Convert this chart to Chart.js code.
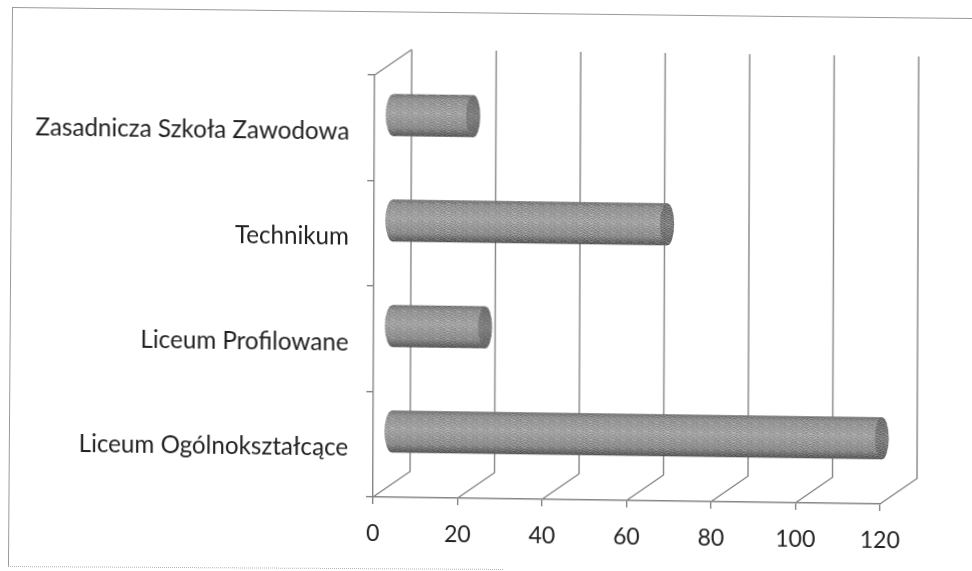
<!DOCTYPE html>
<html>
<head>
<meta charset="utf-8">
<title>Szkoły</title>
<script src="https://cdn.jsdelivr.net/npm/chart.js@4/dist/chart.umd.min.js"></script>
<style>
  html, body { margin: 0; padding: 0; background: #fff; overflow: hidden; }
  #wrap { position: relative; width: 972px; height: 571px; overflow: hidden; }
  #frame { position: absolute; left: 12px; top: 7px; width: 980px; height: 560px;
           border-top: 1px solid #9a9a9a; border-left: 1px solid #9a9a9a; box-sizing: border-box;
           transform-origin: 0 0; transform: matrix(1, 0.0115, -0.0072, 1, 0, 0); }
  #frameBottom { position: absolute; left: 8px; top: 566px; width: 495px; height: 0;
           border-top: 1px dotted #b5b5b5;
           transform-origin: 0 0; transform: matrix(1, 0.006, 0, 1, 0, 0); }
  /* the scan is slightly skewed, the axis runs downhill to the right */
  #grafico { position: absolute; left: 0; top: 0;
             transform-origin: 373px 497px; transform: matrix(1, 0.0138, -0.004, 1, 0, 0); }
</style>
</head>
<body>
<div id="wrap">
  <div id="frame"></div>
  <div id="frameBottom"></div>
  <canvas id="grafico" width="972" height="571"></canvas>
</div>
<script>
const categorias = ['Zasadnicza Szkoła Zawodowa', 'Technikum', 'Liceum Profilowane', 'Liceum Ogólnokształcące'];
const valores = [19, 65, 22, 116];
const ticksX = [0, 20, 40, 60, 80, 100, 120];

const depthX = 37;
const depthY = 26;
const lineColor = '#858585';
const textColor = '#222222';

function gradienteBarra(ctx, top, bottom, stops) {
    const g = ctx.createLinearGradient(0, top, 0, bottom);
    stops.forEach(s => g.addColorStop(s[0], s[1]));
    return g;
}

const cuerpo = [[0, '#707070'], [0.12, '#969696'], [0.45, '#aaaaaa'], [0.8, '#8e8e8e'], [1, '#4e4e4e']];
const tapa = [[0, '#6a6a6a'], [0.5, '#808080'], [1, '#606060']];

// scanned print grain, a fixed tile laid over the bars
const grano = ['10110100101', '01001101100', '11010010011', '00101100110', '10011011001', '01100100101', '10100111010', '01011000110', '11000101011'];
function patronGrano(ctx) {
    const tile = document.createElement('canvas');
    tile.width = grano[0].length;
    tile.height = grano.length;
    const t = tile.getContext('2d');
    grano.forEach((fila, j) => [...fila].forEach((c, i) => {
        t.fillStyle = c === '1' ? 'rgba(255,255,255,0.16)' : 'rgba(0,0,0,0.16)';
        t.fillRect(i, j, 1, 1);
    }));
    return ctx.createPattern(tile, 'repeat');
}

// walls and floor of the 3D box, everything taken from the scales
const caja = {
    id: 'caja',
    beforeDatasetsDraw(chart) {
        const { ctx, scales: { x, y } } = chart;
        const top = y.top, bottom = y.bottom;
        ctx.save();
        ctx.strokeStyle = lineColor;
        ctx.lineWidth = 1.4;
        ticksX.forEach(v => {
            const px = x.getPixelForValue(v);
            ctx.beginPath();
            ctx.moveTo(px, bottom);
            ctx.lineTo(px + depthX, bottom - depthY);
            ctx.lineTo(px + depthX, top - depthY);
            ctx.stroke();
        });
        ctx.beginPath();
        ctx.moveTo(x.left, top);
        ctx.lineTo(x.left + depthX, top - depthY);
        ctx.stroke();
        ctx.restore();
    },
    beforeDatasetDraw(chart, args) {
        const { ctx } = chart;
        ctx.save();
        ctx.translate(depthX / 2, -depthY / 2);
        chart.getDatasetMeta(args.index).data.forEach(bar => {
            const h = bar.height / 2;
            ctx.fillStyle = gradienteBarra(ctx, bar.y - h, bar.y + h, cuerpo);
            ctx.beginPath();
            ctx.ellipse(bar.base, bar.y, 8, h, 0, 0, Math.PI * 2);
            ctx.fill();
        });
    },
    afterDatasetDraw(chart, args) {
        const { ctx } = chart;
        const grain = patronGrano(ctx);
        chart.getDatasetMeta(args.index).data.forEach(bar => {
            const h = bar.height / 2;
            ctx.fillStyle = gradienteBarra(ctx, bar.y - h, bar.y + h, tapa);
            ctx.beginPath();
            ctx.ellipse(bar.x, bar.y, 7, h, 0, 0, Math.PI * 2);
            ctx.fill();
            ctx.fillStyle = grain;
            ctx.beginPath();
            ctx.ellipse(bar.base, bar.y, 8, h, 0, Math.PI / 2, Math.PI * 1.5);
            ctx.ellipse(bar.x, bar.y, 7, h, 0, -Math.PI / 2, Math.PI / 2);
            ctx.closePath();
            ctx.fill();
        });
        ctx.restore();
    },
    // category names sit a little under the band centre in the print
    afterDraw(chart) {
        const { ctx, scales: { y } } = chart;
        ctx.save();
        ctx.font = '24.2px Lato';
        ctx.fillStyle = textColor;
        ctx.textAlign = 'right';
        ctx.textBaseline = 'middle';
        categorias.forEach((c, i) => ctx.fillText(c, y.right - 25, y.getPixelForValue(i) + 4));
        ctx.restore();
    }
};

new Chart(document.getElementById('grafico').getContext('2d'), {
    type: 'bar',
    data: {
        labels: categorias,
        datasets: [{
            data: valores,
            clip: false,
            barPercentage: 0.4,
            categoryPercentage: 1,
            backgroundColor(c) {
                const y = c.chart.scales.y;
                if (!y || !isFinite(y.getPixelForValue(c.dataIndex))) return '#969696';
                const mid = y.getPixelForValue(c.dataIndex);
                const h = y.height / categorias.length * 0.2;
                return gradienteBarra(c.chart.ctx, mid - h, mid + h, cuerpo);
            }
        }]
    },
    plugins: [caja],
    options: {
        indexAxis: 'y',
        responsive: false,
        animation: false,
        layout: { padding: { top: 75, right: 92, left: 0, bottom: 0 } },
        plugins: { legend: { display: false }, tooltip: { enabled: false } },
        scales: {
            x: {
                min: 0,
                max: 120,
                afterFit(s) { s.height = 74; },
                afterBuildTicks(s) { s.ticks = ticksX.map(v => ({ value: v })); },
                border: { color: lineColor, width: 1.4 },
                grid: { drawOnChartArea: false, color: lineColor, tickLength: 7, lineWidth: 1.4 },
                ticks: { color: textColor, padding: 16, maxRotation: 0, font: { family: 'Lato', size: 23 } }
            },
            y: {
                afterFit(s) { s.width = 373; },
                border: { color: lineColor, width: 1.4 },
                grid: { drawOnChartArea: false, color: lineColor, tickLength: 7, lineWidth: 1.4 },
                ticks: { display: false }
            }
        }
    }
});
</script>
</body>
</html>
